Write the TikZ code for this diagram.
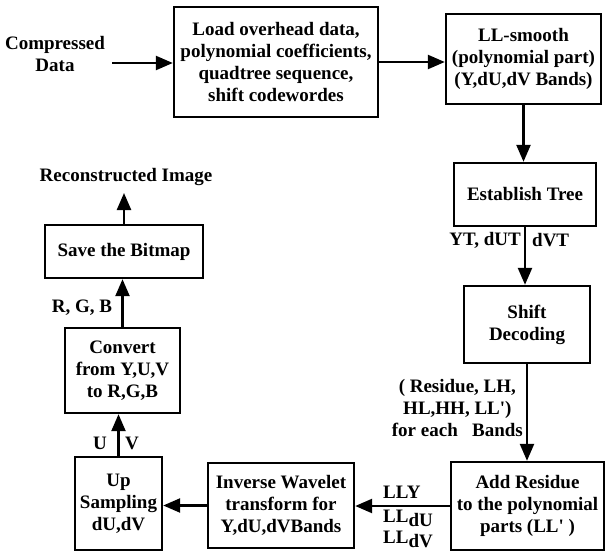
\documentclass[tikz,border=0pt]{standalone}
\usepackage{fontspec}
\setmainfont{Liberation Serif}[Ligatures=TeXOff]
\usetikzlibrary{arrows.meta}

\tikzset{
  every node/.style={font=\fontsize{19}{22}\selectfont\bfseries, inner sep=0pt, align=center},
  stagebox/.style={draw, line width=2.4pt, inner sep=0pt},
  flow/.style={line width=2.4pt, -{Triangle[length=17pt,width=14pt]}},
  tag/.style={inner sep=0pt}
}

\begin{document}
\begin{tikzpicture}[x=1pt,y=-1pt]
\useasboundingbox (0,0) rectangle (606,554);

% processing stages
\node[stagebox, minimum width=204, minimum height=110] (load) at (276,62)
  {Load overhead data,\\polynomial coefficients,\\quadtree sequence,\\shift codewordes};
\node[stagebox, minimum width=155, minimum height=90] (llsm) at (523.5,59)
  {LL-smooth\\(polynomial part)\\(Y,dU,dV Bands)};
\node[stagebox, minimum width=142, minimum height=63] (est) at (525,194.5)
  {Establish Tree};
\node[stagebox, minimum width=126, minimum height=77] (shift) at (527,324.5)
  {Shift\\Decoding};
\node[stagebox, minimum width=153, minimum height=88] (add) at (527.5,506)
  {Add Residue\\to the polynomial\\parts (LL' )};
\node[stagebox, minimum width=146, minimum height=85] (inv) at (281,505.5)
  {Inverse Wavelet\\transform for\\Y,dU,dVBands};
\node[stagebox, minimum width=87, minimum height=93] (up) at (118.5,503.5)
  {Up\\Sampling\\dU,dV};
\node[stagebox, minimum width=115, minimum height=85] (conv) at (122.5,370.5)
  {Convert\\from Y,U,V\\to R,G,B};
\node[stagebox, minimum width=158, minimum height=53] (save) at (124,251.5)
  {Save the Bitmap};

% input and output texts
\node (comp) at (55,54) {Compressed\\Data};
\node (recon) at (126,177) {Reconstructed Image};
\coordinate (cin) at (112,63);
\coordinate (rtop) at (124,193);

% data flow
\draw[flow] (cin) -- (cin -| load.west);
\draw[flow] (load.east) -- (load.east -| llsm.west);
\draw[flow] (llsm.south) -- (llsm.south |- est.north);
\draw[flow] (est.south) -- (est.south |- shift.north);
\draw[flow] (shift.south) -- (shift.south |- add.north);
\draw[flow] (add.west) -- (add.west -| inv.east);
\draw[flow] (inv.west) -- (inv.west -| up.east);
\draw[flow] (up.north) -- (up.north |- conv.south);
\draw[flow] (conv.north) -- (conv.north |- save.south);
\draw[flow] (save.north) -- (save.north |- rtop);

% labels on the connectors
\node[tag, anchor=east] (ltrees) at (521,240) {YT, dUT};
\node[tag, anchor=west] (ltreev) at (532,240) {dVT};
\node[tag, anchor=east] (lres) at (523,408) {( Residue, LH,\\HL,HH, LL')\\for each\ \ \ Bands};
\node[tag, anchor=west] (lly) at (383,492) {LLY};
\node[tag, anchor=west] (lldu) at (383,518) {LL\raisebox{-4pt}{dU}};
\node[tag, anchor=west] (lldv) at (383,539) {LL\raisebox{-4pt}{dV}};
\node[tag] (lu) at (100,443) {U};
\node[tag] (lv) at (132,443) {V};
\node[tag] (lrgb) at (82,308) {R, G, B};
\end{tikzpicture}
\end{document}
